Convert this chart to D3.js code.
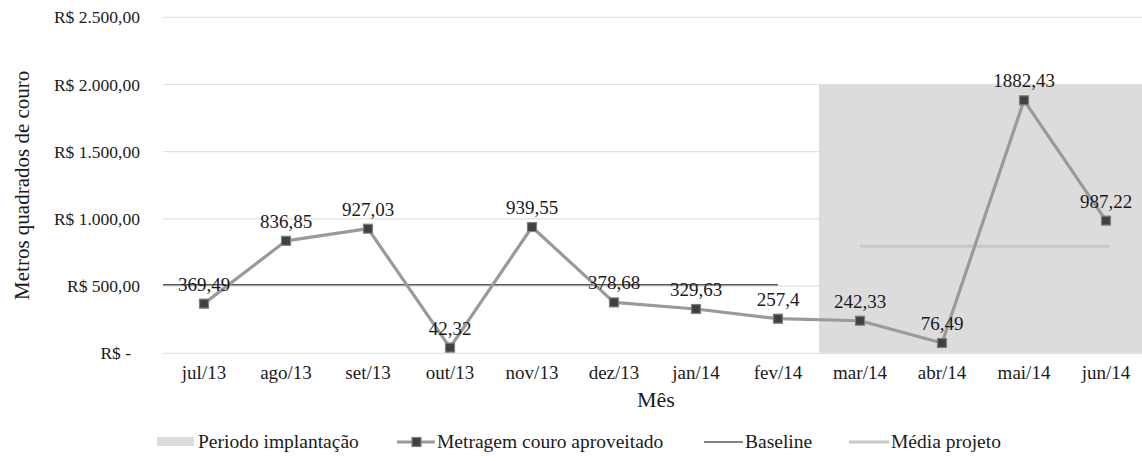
<!DOCTYPE html>
<html>
<head>
<meta charset="utf-8">
<script src="https://cdn.jsdelivr.net/npm/d3@7"></script>
<style>
  html, body { margin: 0; padding: 0; background: #fff; }
  svg text { font-family: 'Liberation Serif', 'Times New Roman', Times, 'DejaVu Serif', serif !important; }
</style>
</head>
<body>
<svg id="chart" width="1142" height="461"></svg>
<script>
// Monthly usable leather area (m²)
const months = ["jul/13","ago/13","set/13","out/13","nov/13","dez/13","jan/14","fev/14","mar/14","abr/14","mai/14","jun/14"];
const metragem = [369.49, 836.85, 927.03, 42.32, 939.55, 378.68, 329.63, 257.4, 242.33, 76.49, 1882.43, 987.22];
const metragemLabels = ["369,49","836,85","927,03","42,32","939,55","378,68","329,63","257,4","242,33","76,49","1882,43","987,22"];

// Reference lines
const baselineValue = 510;
const baselineMonths = ["jul/13","fev/14"];
const mediaProjetoValue = 797.12;
const mediaMonths = ["mar/14","jun/14"];

// Implementation period shading
const periodoMonths = ["mar/14","jun/14"];
const periodoTop = 2000;

// Y axis ticks
const yTicks = [0, 500, 1000, 1500, 2000, 2500];
const yTickLabels = ["R$ -","R$ 500,00","R$ 1.000,00","R$ 1.500,00","R$ 2.000,00","R$ 2.500,00"];

const legendItems = ["Periodo implantação","Metragem couro aproveitado","Baseline","Média projeto"];

const FONT = "'Liberation Serif', 'Times New Roman', Times, serif";
const svg = d3.select("#chart").attr("font-family", FONT);
const margin = {left: 163, right: 1147, top: 17.3, bottom: 353.3};

const x = d3.scaleBand().domain(months).range([margin.left, margin.right]).padding(0);
const xc = m => x(m) + x.bandwidth() / 2;
const y = d3.scaleLinear().domain([0, 2500]).range([margin.bottom, margin.top]);

// Gridlines
svg.append("g").selectAll("line").data(yTicks).join("line")
  .attr("x1", margin.left).attr("x2", margin.right)
  .attr("y1", d => y(d)).attr("y2", d => y(d))
  .attr("stroke", "#e2e2e2").attr("stroke-width", 1.2);

// Shaded implementation period
svg.append("rect")
  .attr("x", x(periodoMonths[0]))
  .attr("y", y(periodoTop))
  .attr("width", x(periodoMonths[1]) + x.bandwidth() - x(periodoMonths[0]))
  .attr("height", y(0) - y(periodoTop) - 0.6)
  .attr("fill", "#dcdcdc");

// Y axis labels
const yAxis = d3.axisLeft(y).tickValues(yTicks).tickSize(0).tickPadding(0)
  .tickFormat((d, i) => yTickLabels[i]);
const yg = svg.append("g").attr("transform", `translate(140,0)`).call(yAxis)
  .attr("font-family", FONT).attr("font-size", 17.5);
yg.select(".domain").remove();
yg.selectAll("text")
  .attr("fill", "#1a1a1a")
  .attr("dx", (d) => d === 0 ? -9 : 0);

// X axis labels
const xAxis = d3.axisBottom(x).tickSize(0).tickPadding(0);
const xg = svg.append("g").attr("transform", `translate(0,${margin.bottom + 12})`).call(xAxis)
  .attr("font-family", FONT).attr("font-size", 19);
xg.select(".domain").remove();
xg.selectAll("text").attr("fill", "#1a1a1a");

// Axis titles
svg.append("text")
  .attr("x", 656).attr("y", 407)
  .attr("text-anchor", "middle")
  .attr("font-size", 22).attr("fill", "#1a1a1a")
  .text("Mês");
svg.append("text")
  .attr("transform", `translate(29,${(margin.top + margin.bottom) / 2}) rotate(-90)`)
  .attr("text-anchor", "middle")
  .attr("font-size", 21).attr("fill", "#1a1a1a")
  .text("Metros quadrados de couro");

// Baseline
svg.append("line")
  .attr("x1", margin.left).attr("x2", xc(baselineMonths[1]))
  .attr("y1", y(baselineValue)).attr("y2", y(baselineValue))
  .attr("stroke", "#5a5a5a").attr("stroke-width", 1.5);

// Project mean
svg.append("line")
  .attr("x1", xc(mediaMonths[0])).attr("x2", xc(mediaMonths[1]) + 3)
  .attr("y1", y(mediaProjetoValue)).attr("y2", y(mediaProjetoValue))
  .attr("stroke", "#c8c8c8").attr("stroke-width", 3);

// Metragem line
const line = d3.line().x((d, i) => xc(months[i])).y(d => y(d));
svg.append("path")
  .datum(metragem)
  .attr("d", line)
  .attr("fill", "none")
  .attr("stroke", "#9a9a9a")
  .attr("stroke-width", 3.2)
  .attr("stroke-linejoin", "round");

// Markers
svg.append("g").selectAll("rect").data(metragem).join("rect")
  .attr("x", (d, i) => xc(months[i]) - 4.5)
  .attr("y", d => y(d) - 4.5)
  .attr("width", 9).attr("height", 9)
  .attr("fill", "#404040")
  .attr("stroke", "#808080").attr("stroke-width", 1.2);

// Data labels
svg.append("g").selectAll("text").data(metragem).join("text")
  .attr("x", (d, i) => xc(months[i]))
  .attr("y", d => y(d) - 13)
  .attr("text-anchor", "middle")
  .attr("font-size", 19).attr("fill", "#1a1a1a")
  .text((d, i) => metragemLabels[i]);

// Legend
const ly = 442;
const lg = svg.append("g").attr("font-size", 19.5).attr("fill", "#1a1a1a");
lg.append("rect").attr("x", 157).attr("y", ly - 5).attr("width", 37).attr("height", 9).attr("fill", "#dcdcdc");
lg.append("text").attr("x", 198).attr("y", ly + 6).text(legendItems[0]);

lg.append("line").attr("x1", 397).attr("x2", 435).attr("y1", ly).attr("y2", ly)
  .attr("stroke", "#9a9a9a").attr("stroke-width", 3.2);
lg.append("rect").attr("x", 412).attr("y", ly - 4.5).attr("width", 9).attr("height", 9)
  .attr("fill", "#404040").attr("stroke", "#808080").attr("stroke-width", 1.2);
lg.append("text").attr("x", 437).attr("y", ly + 6).text(legendItems[1]);

lg.append("line").attr("x1", 704).attr("x2", 743).attr("y1", ly).attr("y2", ly)
  .attr("stroke", "#5a5a5a").attr("stroke-width", 1.5);
lg.append("text").attr("x", 745).attr("y", ly + 6).text(legendItems[2]);

lg.append("line").attr("x1", 849).attr("x2", 889).attr("y1", ly).attr("y2", ly)
  .attr("stroke", "#c8c8c8").attr("stroke-width", 3);
lg.append("text").attr("x", 891).attr("y", ly + 6).text(legendItems[3]);
</script>
</body>
</html>
